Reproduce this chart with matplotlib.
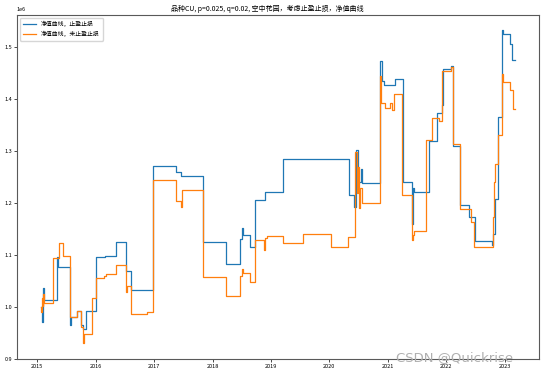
import numpy as np
import pandas as pd
import matplotlib
matplotlib.use('Agg')
import matplotlib.pyplot as plt
import matplotlib.dates as mdates

plt.rcParams['font.family'] = ['Noto Sans CJK SC', 'DejaVu Sans']
plt.rcParams['axes.unicode_minus'] = False

# step change points, time in decimal years, net value in 1e6
t_stop = [2015.058, 2015.072, 2015.089, 2015.098, 2015.110, 2015.344, 2015.361,
          2015.567, 2015.584, 2015.687, 2015.746, 2015.790, 2015.825, 2016.003,
          2016.158, 2016.347, 2016.519, 2016.605, 2016.976, 2017.378, 2017.457,
          2017.835, 2018.230, 2018.477, 2018.508, 2018.525, 2018.637, 2018.723,
          2018.895, 2019.204, 2020.338, 2020.424, 2020.463, 2020.492, 2020.539,
          2020.566, 2020.865, 2020.896, 2020.939, 2021.128, 2021.253, 2021.411,
          2021.428, 2021.454, 2021.712, 2021.844, 2021.923, 2021.952, 2022.085,
          2022.112, 2022.239, 2022.399, 2022.502, 2022.782, 2022.799, 2022.829,
          2022.892, 2022.954, 2022.975, 2023.087, 2023.133, 2023.184]
v_stop = [1.000, 0.971, 1.012, 1.036, 1.014, 1.096, 1.078,
          0.966, 0.980, 0.992, 0.965, 0.957, 0.992, 1.096,
          1.099, 1.125, 1.070, 1.033, 1.272, 1.261, 1.253,
          1.125, 1.083, 1.132, 1.152, 1.139, 1.116, 1.207,
          1.221, 1.285, 1.216, 1.192, 1.302, 1.240, 1.265,
          1.238, 1.474, 1.436, 1.428, 1.439, 1.241, 1.160,
          1.230, 1.221, 1.320, 1.373, 1.390, 1.458, 1.464,
          1.310, 1.197, 1.173, 1.128, 1.120, 1.140, 1.208,
          1.366, 1.533, 1.525, 1.506, 1.475, 1.475]

t_nostop = [2015.058, 2015.069, 2015.077, 2015.089, 2015.098, 2015.107, 2015.270,
            2015.373, 2015.447, 2015.567, 2015.687, 2015.746, 2015.776, 2015.794,
            2015.928, 2016.003, 2016.146, 2016.168, 2016.340, 2016.519, 2016.536,
            2016.605, 2016.873, 2016.976, 2017.378, 2017.457, 2017.469, 2017.835,
            2018.230, 2018.465, 2018.508, 2018.525, 2018.637, 2018.723, 2018.889,
            2018.903, 2018.924, 2019.204, 2019.547, 2020.023, 2020.326, 2020.441,
            2020.467, 2020.484, 2020.501, 2020.527, 2020.552, 2020.870, 2020.887,
            2020.956, 2021.037, 2021.081, 2021.099, 2021.236, 2021.408, 2021.428,
            2021.454, 2021.655, 2021.751, 2021.872, 2021.935, 2022.085, 2022.112,
            2022.239, 2022.428, 2022.485, 2022.799, 2022.820, 2022.837, 2022.880,
            2022.954, 2022.975, 2023.087, 2023.144, 2023.184]
v_nostop = [1.000, 0.990, 1.018, 1.002, 1.025, 1.007, 1.094,
            1.124, 1.099, 0.981, 0.992, 0.961, 0.930, 0.948,
            1.018, 1.056, 1.060, 1.063, 1.080, 1.028, 1.040,
            0.987, 0.990, 1.245, 1.205, 1.192, 1.226, 1.057,
            1.021, 1.059, 1.073, 1.065, 1.048, 1.129, 1.109,
            1.133, 1.137, 1.123, 1.140, 1.116, 1.134, 1.298,
            1.220, 1.270, 1.190, 1.230, 1.200, 1.445, 1.394,
            1.384, 1.394, 1.380, 1.411, 1.216, 1.130, 1.139,
            1.147, 1.322, 1.365, 1.359, 1.455, 1.463, 1.315,
            1.189, 1.163, 1.116, 1.173, 1.240, 1.275, 1.331,
            1.448, 1.434, 1.418, 1.382, 1.382]


def to_dates(t):
    base = pd.Timestamp('2015-01-01')
    return base + pd.to_timedelta((np.array(t) - 2015) * 365.25, unit='D')


fig = plt.figure(figsize=(5.44, 3.73), dpi=100)
ax = fig.add_axes([0.0313, 0.0375, 0.9595, 0.9231])

ax.plot(to_dates(t_stop), np.array(v_stop) * 1e6, drawstyle='steps-post',
        lw=0.9, color='#1f77b4', label='净值曲线，止盈止损')
ax.plot(to_dates(t_nostop), np.array(v_nostop) * 1e6, drawstyle='steps-post',
        lw=0.9, color='#ff7f0e', label='净值曲线，未止盈止损')

ax.set_title('品种CU, p=0.025, q=0.02, 空中花园，考虑止盈止损，净值曲线',
             fontsize=5.0, pad=3, x=0.48)
ax.xaxis.set_major_locator(mdates.YearLocator())
ax.xaxis.set_major_formatter(mdates.DateFormatter('%Y'))
ax.tick_params(labelsize=4, length=2, width=0.5, pad=1.5)
ax.yaxis.get_offset_text().set_fontsize(4)
for s in ax.spines.values():
    s.set_linewidth(0.8)
    s.set_color('0.35')

ax.legend(loc='upper left', fontsize=4.2, frameon=True, borderpad=0.6,
          handlelength=2.2, labelspacing=0.6)

fig.text(0.728, 0.042, 'CSDN @Quickrise', fontsize=9.5, color='#b0b0b0',
         family='DejaVu Sans', va='center')

fig.savefig('out.png', dpi=100)
